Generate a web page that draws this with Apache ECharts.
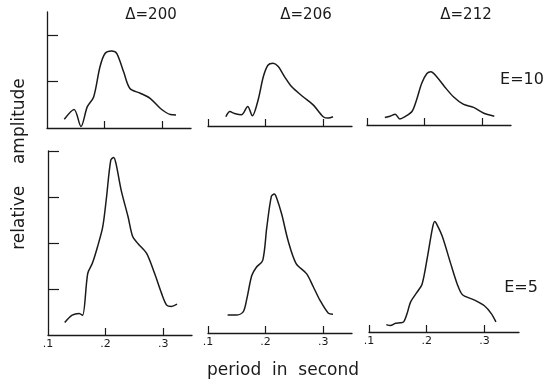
<!DOCTYPE html>
<html>
<head>
<meta charset="utf-8">
<script src="https://cdn.jsdelivr.net/npm/echarts@6/dist/echarts.min.js"></script>
<style>
  html, body { margin: 0; padding: 0; background: #fff; }
  #main { width: 546px; height: 384px; }
</style>
</head>
<body>
<div id="main"></div>
<script>
  // panel headers / row labels
  var deltaLabels = ['Δ=200', 'Δ=206', 'Δ=212']
  var energyLabels = ['E=10', 'E=5']
  var periodTicks = [0.1, 0.2, 0.3]

  // [period (s), relative amplitude], E=10 row
  var d200e10 = [[0.130, 0.19], [0.147, 0.40], [0.159, 0.03], [0.170, 0.46], [0.181, 0.67],
    [0.192, 1.32], [0.201, 1.61], [0.212, 1.66], [0.221, 1.61], [0.233, 1.21], [0.244, 0.85],
    [0.262, 0.75], [0.279, 0.64], [0.297, 0.42], [0.314, 0.29], [0.324, 0.28]]
  var d206e10 = [[0.131, 0.20], [0.138, 0.31], [0.146, 0.27], [0.158, 0.24], [0.169, 0.42],
    [0.177, 0.22], [0.187, 0.56], [0.196, 1.06], [0.204, 1.31], [0.213, 1.35], [0.222, 1.28],
    [0.233, 1.06], [0.245, 0.85], [0.265, 0.63], [0.283, 0.45], [0.300, 0.20], [0.309, 0.17],
    [0.317, 0.20]]
  var d212e10 = [[0.131, 0.16], [0.140, 0.19], [0.149, 0.23], [0.157, 0.13], [0.166, 0.18],
    [0.178, 0.29], [0.186, 0.54], [0.195, 0.90], [0.204, 1.11], [0.211, 1.15], [0.221, 1.04],
    [0.235, 0.82], [0.250, 0.61], [0.267, 0.45], [0.285, 0.38], [0.302, 0.26], [0.321, 0.19]]

  // E=5 row
  var d200e5 = [[0.129, 0.27], [0.142, 0.43], [0.154, 0.47], [0.160, 0.43], [0.169, 1.34],
    [0.177, 1.56], [0.186, 1.92], [0.195, 2.35], [0.201, 2.93], [0.209, 3.80], [0.214, 3.86],
    [0.218, 3.73], [0.227, 3.15], [0.239, 2.57], [0.247, 2.14], [0.256, 1.99], [0.271, 1.78],
    [0.285, 1.34], [0.297, 0.91], [0.306, 0.65], [0.314, 0.62], [0.324, 0.67]]
  var d206e5 = [[0.134, 0.39], [0.149, 0.39], [0.161, 0.46], [0.167, 0.72], [0.176, 1.25],
    [0.184, 1.43], [0.195, 1.58], [0.202, 2.29], [0.210, 2.97], [0.215, 3.02], [0.219, 2.94],
    [0.228, 2.58], [0.239, 2.01], [0.253, 1.51], [0.271, 1.29], [0.283, 1.00], [0.294, 0.72],
    [0.309, 0.43], [0.317, 0.41]]
  var d212e5 = [[0.130, 0.16], [0.137, 0.14], [0.146, 0.19], [0.154, 0.20], [0.160, 0.22],
    [0.166, 0.40], [0.172, 0.65], [0.183, 0.86], [0.192, 1.04], [0.201, 1.61], [0.210, 2.26],
    [0.214, 2.40], [0.218, 2.33], [0.227, 2.08], [0.242, 1.47], [0.253, 1.04], [0.262, 0.81],
    [0.282, 0.70], [0.300, 0.57], [0.312, 0.40], [0.320, 0.22]]

  var panels = [d200e10, d206e10, d212e10, d200e5, d206e5, d212e5]

  var ink = '#1a1a1a'
  var font = 'DejaVu Sans'

  // pixel boxes of the six little plots (left, top, width, height)
  var grids = [
    { left: 47, top: 12, width: 144, height: 116 },
    { left: 208, top: 10, width: 144, height: 116 },
    { left: 367, top: 9, width: 144, height: 116 },
    { left: 48, top: 151, width: 144, height: 184 },
    { left: 208, top: 149, width: 144, height: 184 },
    { left: 369, top: 148, width: 150, height: 184 }
  ]
  var xMax = [0.35, 0.35, 0.35, 0.35, 0.35, 0.36]

  var xAxis = [], yAxis = [], series = []
  for (var i = 0; i < 6; i++) {
    var bottom = i >= 3
    var leftCol = i % 3 == 0
    xAxis.push({
      type: 'value',
      gridIndex: i,
      min: 0.1,
      max: xMax[i],
      splitLine: { show: false },
      axisLine: { show: true, onZero: false, lineStyle: { color: ink, width: 1.3 } },
      axisTick: {
        show: true,
        inside: true,
        length: 7,
        customValues: leftCol ? [0.2, 0.3] : periodTicks,
        lineStyle: { color: ink, width: 1.2 }
      },
      axisLabel: {
        show: bottom,
        customValues: periodTicks,
        margin: 4,
        color: ink,
        fontFamily: font,
        fontSize: 11,
        formatter: function (v) {
          return '.' + Math.round(v * 10)
        }
      }
    })
    yAxis.push({
      type: 'value',
      gridIndex: i,
      show: leftCol,
      min: 0,
      max: bottom ? 4 : 2.5,
      splitLine: { show: false },
      axisLine: { show: true, lineStyle: { color: ink, width: 1.3 } },
      axisTick: {
        show: true,
        inside: true,
        length: 11,
        customValues: bottom ? [1, 2, 3, 4] : [1, 2],
        lineStyle: { color: ink, width: 1.2 }
      },
      axisLabel: { show: false }
    })
    series.push({
      type: 'line',
      xAxisIndex: i,
      yAxisIndex: i,
      data: panels[i],
      smooth: 0.3,
      symbol: 'none',
      lineStyle: { color: ink, width: 1.5 }
    })
  }

  var titleX = [151, 306, 466]
  var graphic = []
  for (var k = 0; k < 3; k++) {
    graphic.push({
      type: 'text', x: titleX[k], y: 15,
      style: { text: deltaLabels[k], fill: ink, font: '15px ' + font, align: 'center', verticalAlign: 'middle' }
    })
  }
  graphic.push({
    type: 'text', x: 522, y: 80,
    style: { text: energyLabels[0], fill: ink, font: '16px ' + font, align: 'center', verticalAlign: 'middle' }
  })
  graphic.push({
    type: 'text', x: 521, y: 288,
    style: { text: energyLabels[1], fill: ink, font: '16px ' + font, align: 'center', verticalAlign: 'middle' }
  })
  graphic.push({
    type: 'text', x: 283, y: 371,
    style: { text: 'period  in  second', fill: ink, font: '17px ' + font, align: 'center', verticalAlign: 'middle' }
  })
  graphic.push({
    type: 'text', x: 20, y: 164, rotation: Math.PI / 2,
    style: { text: 'relative    amplitude', fill: ink, font: '17px ' + font, align: 'center', verticalAlign: 'middle' }
  })

  var chart = echarts.init(document.getElementById('main'))
  chart.setOption({
    backgroundColor: '#fff',
    animation: false,
    grid: grids,
    xAxis: xAxis,
    yAxis: yAxis,
    series: series,
    graphic: graphic
  })
</script>
</body>
</html>
